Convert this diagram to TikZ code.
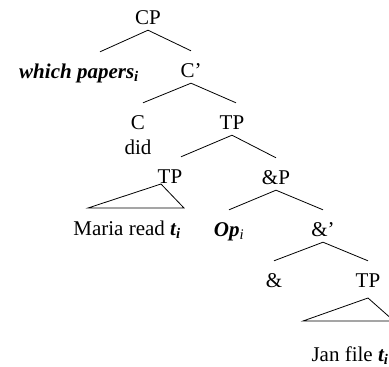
\documentclass[tikz,border=0pt]{standalone}
\usepackage{fontspec}
\setmainfont{Liberation Serif}

\begin{document}
\begin{tikzpicture}[
    x=1pt, y=-1pt,
    font=\fontsize{21}{25}\selectfont,
    cat/.style={anchor=base, inner sep=0pt, text height=26pt, text depth=6pt},
    word/.style={anchor=base, inner sep=0pt},
    branch/.style={line width=0.8pt, black}
  ]
  \useasboundingbox (0,0) rectangle (389,367);

  % --- Categories ---
  \node[cat] (cp) at (148,24) {CP};
  \node[cat] (wh) at (79,78) {\textbf{\textit{which papers\textsubscript{i}}}};
  \node[cat] (cbar) at (191,77) {C'};
  \node[cat] (c) at (138,129) {C};
  \node[word] (did) at (138,154) {did};
  \node[cat] (tp) at (232,129) {TP};
  \node[cat] (tpl) at (170,183) {TP};
  \node[cat] (andp) at (276,184) {\&P};
  \node[cat] (op) at (229,236) {\textbf{\textit{Op}}\textsubscript{\textit{i}}};
  \node[cat] (andbar) at (323,236) {\&'};
  \node[cat] (and) at (274,287) {\&};
  \node[cat] (tpr) at (368,287) {TP};

  % --- Terminal strings ---
  \node[word] (maria) at (127,235) {Maria read \textbf{\textit{t\textsubscript{i}}}};
  \node[word] (jan) at (350,361) {Jan file \textbf{\textit{t\textsubscript{i}}}};

  % --- Branches ---
  \draw[branch] (cp.south) -- ([xshift=21pt]wh.north);
  \draw[branch] (cp.south) -- (cbar.north);
  \draw[branch] (cbar.south) -- ([xshift=5pt]c.north);
  \draw[branch] (cbar.south) -- ([xshift=4pt]tp.north);
  \draw[branch] (tp.south) -- ([xshift=11pt]tpl.north);
  \draw[branch] (tp.south) -- (andp.north);
  \draw[branch] (andp.south) -- (op.north);
  \draw[branch] (andp.south) -- (andbar.north);
  \draw[branch] (andbar.south) -- (and.north);
  \draw[branch] (andbar.south) -- (tpr.north);

  % --- Triangles ---
  \draw[branch] ([xshift=-9pt,yshift=-1pt]tpl.base) -- ++(-73,24) -- ++(96,0) -- cycle;
  \draw[branch] ([yshift=-11pt]tpr.base) -- ++(-65,23) -- ++(91,0) -- cycle;

\end{tikzpicture}
\end{document}
